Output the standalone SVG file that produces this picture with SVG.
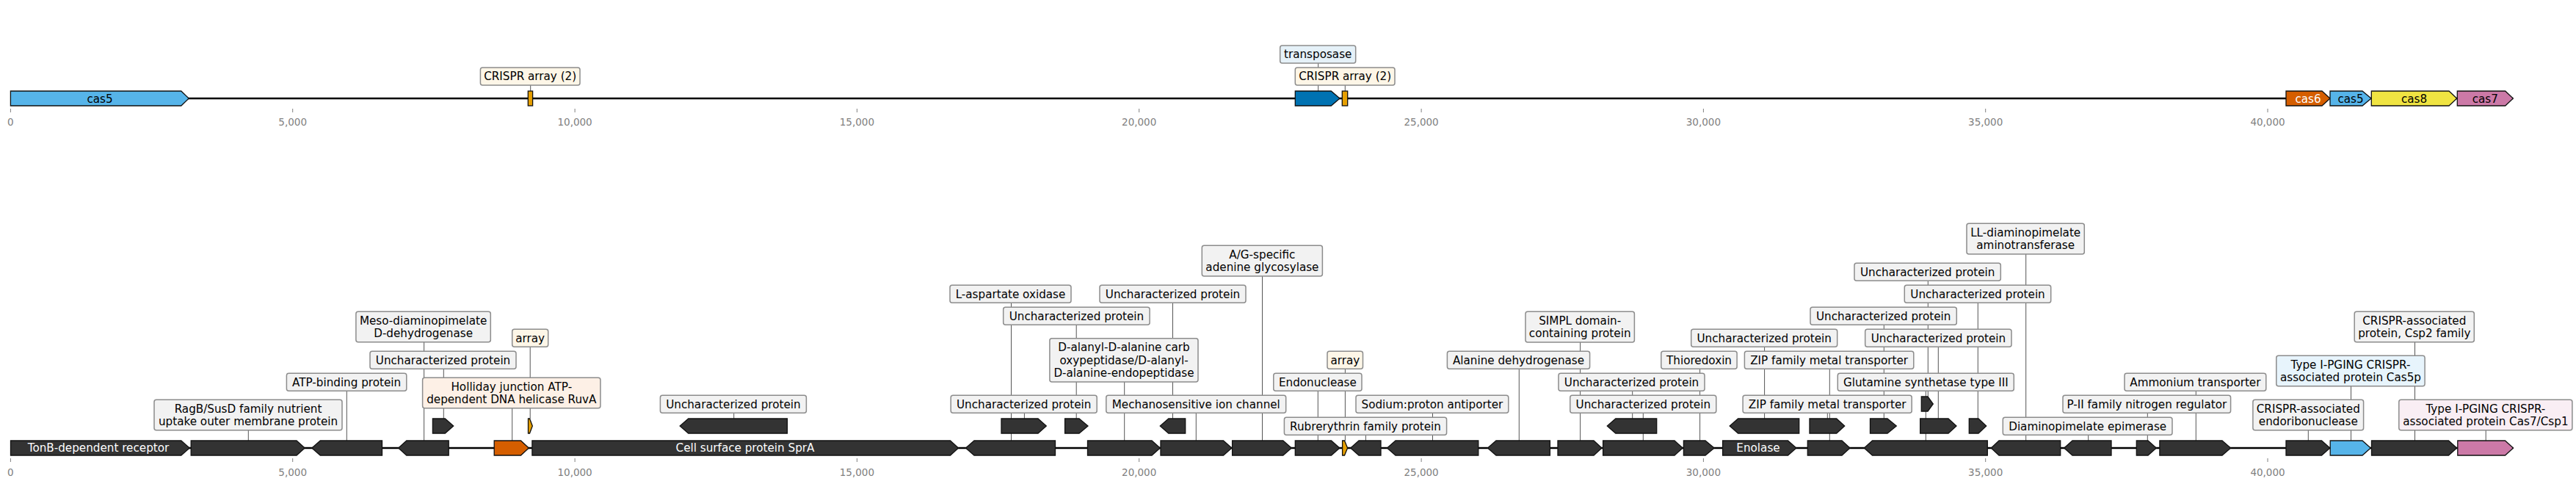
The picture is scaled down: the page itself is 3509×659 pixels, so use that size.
<svg xmlns="http://www.w3.org/2000/svg" width="3509" height="659" viewBox="0 0 3509 659">
<style>
text{font-family:"DejaVu Sans","Liberation Sans",sans-serif;font-size:15.2px;fill:#000;text-anchor:middle}
.bb{stroke:#000;stroke-width:2.5;fill:none}
.g{fill:#333;stroke:#111;stroke-width:1.3}
.lb{fill:#f2f2f2;stroke:#8c8c8c;stroke-width:1.5}
.cr{fill:#fdf6e7}
.ru{fill:#fdf0e6}
.tb{fill:#e5f1f8}
.c5{fill:#e7f4fc}
.c7{fill:#f9eef4}
.w{fill:#fff}
.tk{stroke:#808080;stroke-width:1}
.tl{fill:#808080;font-size:13.5px}
.cn{stroke:#555;stroke-width:1}
</style>
<rect width="3509" height="659" fill="#fff"/>
<g id="axes">
<line class="tk" x1="14.4" y1="148" x2="14.4" y2="153"/><line class="tk" x1="398.7" y1="148" x2="398.7" y2="153"/><line class="tk" x1="783.1" y1="148" x2="783.1" y2="153"/><line class="tk" x1="1167.4" y1="148" x2="1167.4" y2="153"/><line class="tk" x1="1551.7" y1="148" x2="1551.7" y2="153"/><line class="tk" x1="1936.1" y1="148" x2="1936.1" y2="153"/><line class="tk" x1="2320.4" y1="148" x2="2320.4" y2="153"/><line class="tk" x1="2704.7" y1="148" x2="2704.7" y2="153"/><line class="tk" x1="3089" y1="148" x2="3089" y2="153"/>
<text class="tl" x="14.4" y="171">0</text><text class="tl" x="398.7" y="171">5,000</text><text class="tl" x="783.1" y="171">10,000</text><text class="tl" x="1167.4" y="171">15,000</text><text class="tl" x="1551.7" y="171">20,000</text><text class="tl" x="1936.1" y="171">25,000</text><text class="tl" x="2320.4" y="171">30,000</text><text class="tl" x="2704.7" y="171">35,000</text><text class="tl" x="3089" y="171">40,000</text>
<line class="tk" x1="14.4" y1="624" x2="14.4" y2="629"/><line class="tk" x1="398.7" y1="624" x2="398.7" y2="629"/><line class="tk" x1="783.1" y1="624" x2="783.1" y2="629"/><line class="tk" x1="1167.4" y1="624" x2="1167.4" y2="629"/><line class="tk" x1="1551.7" y1="624" x2="1551.7" y2="629"/><line class="tk" x1="1936.1" y1="624" x2="1936.1" y2="629"/><line class="tk" x1="2320.4" y1="624" x2="2320.4" y2="629"/><line class="tk" x1="2704.7" y1="624" x2="2704.7" y2="629"/><line class="tk" x1="3089" y1="624" x2="3089" y2="629"/>
<text class="tl" x="14.4" y="647.5">0</text><text class="tl" x="398.7" y="647.5">5,000</text><text class="tl" x="783.1" y="647.5">10,000</text><text class="tl" x="1167.4" y="647.5">15,000</text><text class="tl" x="1551.7" y="647.5">20,000</text><text class="tl" x="1936.1" y="647.5">25,000</text><text class="tl" x="2320.4" y="647.5">30,000</text><text class="tl" x="2704.7" y="647.5">35,000</text><text class="tl" x="3089" y="647.5">40,000</text>
</g>
<g id="backbones">
<line class="bb" x1="14.4" y1="134" x2="3423.3" y2="134"/>
<line class="bb" x1="14.5" y1="610" x2="3423.5" y2="610"/>
</g>
<g id="connectors">
<line class="cn" x1="722.7" y1="116" x2="722.7" y2="124"/>
<line class="cn" x1="1795.7" y1="86" x2="1795.7" y2="124"/>
<line class="cn" x1="1832.3" y1="116" x2="1832.3" y2="124"/>
<line class="cn" x1="338.3" y1="586" x2="338.3" y2="600"/>
<line class="cn" x1="472.3" y1="532.3" x2="472.3" y2="600"/>
<line class="cn" x1="577.6" y1="465.7" x2="577.6" y2="600"/>
<line class="cn" x1="604.3" y1="502.3" x2="604.3" y2="570"/>
<line class="cn" x1="697.7" y1="555.7" x2="697.7" y2="600"/>
<line class="cn" x1="722.2" y1="472.3" x2="722.2" y2="570"/>
<line class="cn" x1="999.7" y1="562.3" x2="999.7" y2="570"/>
<line class="cn" x1="1377.5" y1="412.3" x2="1377.5" y2="600"/>
<line class="cn" x1="1395.4" y1="562.3" x2="1395.4" y2="570"/>
<line class="cn" x1="1466.2" y1="442.3" x2="1466.2" y2="570"/>
<line class="cn" x1="1531.7" y1="520" x2="1531.7" y2="600"/>
<line class="cn" x1="1597.5" y1="412.3" x2="1597.5" y2="570"/>
<line class="cn" x1="1629.3" y1="562.3" x2="1629.3" y2="600"/>
<line class="cn" x1="1719.5" y1="376" x2="1719.5" y2="600"/>
<line class="cn" x1="1795.3" y1="532.3" x2="1795.3" y2="600"/>
<line class="cn" x1="1832.4" y1="502.3" x2="1832.4" y2="600"/>
<line class="cn" x1="1860.4" y1="592.3" x2="1860.4" y2="600"/>
<line class="cn" x1="1951.5" y1="562.3" x2="1951.5" y2="600"/>
<line class="cn" x1="2069.3" y1="502.3" x2="2069.3" y2="600"/>
<line class="cn" x1="2152.6" y1="466" x2="2152.6" y2="600"/>
<line class="cn" x1="2223.7" y1="532.3" x2="2223.7" y2="570"/>
<line class="cn" x1="2238.3" y1="562.3" x2="2238.3" y2="600"/>
<line class="cn" x1="2315.6" y1="502.3" x2="2315.6" y2="600"/>
<line class="cn" x1="2403.6" y1="472.3" x2="2403.6" y2="570"/>
<line class="cn" x1="2492.3" y1="502.3" x2="2492.3" y2="600"/>
<line class="cn" x1="2489.3" y1="562.3" x2="2489.3" y2="570"/>
<line class="cn" x1="2566.3" y1="442.3" x2="2566.3" y2="570"/>
<line class="cn" x1="2623.3" y1="532.3" x2="2623.3" y2="600"/>
<line class="cn" x1="2626.3" y1="382.3" x2="2626.3" y2="540"/>
<line class="cn" x1="2640.3" y1="472.3" x2="2640.3" y2="570"/>
<line class="cn" x1="2694.3" y1="412.3" x2="2694.3" y2="570"/>
<line class="cn" x1="2759.7" y1="346" x2="2759.7" y2="600"/>
<line class="cn" x1="2844.7" y1="592.3" x2="2844.7" y2="600"/>
<line class="cn" x1="2925.3" y1="562.3" x2="2925.3" y2="600"/>
<line class="cn" x1="2991.3" y1="532.3" x2="2991.3" y2="600"/>
<line class="cn" x1="3144.3" y1="585.8" x2="3144.3" y2="600"/>
<line class="cn" x1="3202.5" y1="525.8" x2="3202.5" y2="600"/>
<line class="cn" x1="3289.5" y1="465.8" x2="3289.5" y2="600"/>
<line class="cn" x1="3386.2" y1="585.8" x2="3386.2" y2="600"/>
</g>
<g id="top-cas5"><path class="g" style="fill:#56b4e9" d="M14.4 124H246.8L257.2 134L246.8 144H14.4Z"/><text x="136" y="139.5">cas5</text></g>
<g id="top-crispr1"><rect x="719.3" y="124" width="6.3" height="20" style="fill:#e69f00;stroke:#111;stroke-width:1.3"/><rect class="lb cr" x="654.4" y="92" width="135.6" height="24" rx="3"/><text x="722.2" y="109.3">CRISPR array (2)</text></g>
<g id="top-transposase"><path class="g" style="fill:#0072b2" d="M1764.3 124H1813.3L1825 134L1813.3 144H1764.3Z"/><rect class="lb tb" x="1743.7" y="62" width="103" height="24" rx="3"/><text x="1795.2" y="79.3">transposase</text></g>
<g id="top-crispr2"><rect x="1828.3" y="124" width="7.4" height="20" style="fill:#e69f00;stroke:#111;stroke-width:1.3"/><rect class="lb cr" x="1764.3" y="92" width="135.7" height="24" rx="3"/><text x="1832.2" y="109.3">CRISPR array (2)</text></g>
<g id="top-cas6"><path class="g" style="fill:#d55e00" d="M3114 124H3163L3174 134L3163 144H3114Z"/><text class="w" x="3144" y="139.5">cas6</text></g>
<g id="top-cas5b"><path class="g" style="fill:#56b4e9" d="M3174 124H3218L3230 134L3218 144H3174Z"/><text x="3202" y="139.5">cas5</text></g>
<g id="top-cas8"><path class="g" style="fill:#f0e442" d="M3230.3 124H3336L3346.7 134L3336 144H3230.3Z"/><text x="3288.5" y="139.5">cas8</text></g>
<g id="top-cas7"><path class="g" style="fill:#cc79a7" d="M3347.3 124H3412.7L3423.3 134L3412.7 144H3347.3Z"/><text x="3385.3" y="139.5">cas7</text></g>

<g id="g-tonb"><path class="g" d="M14.5 600H246.8L258.3 610L246.8 620H14.5Z"/><text class="w" x="134" y="615.4">TonB-dependent receptor</text></g>
<g id="g-ragb"><path class="g" d="M260.2 600H404L415.2 610L404 620H260.2Z"/><rect class="lb" x="210" y="544.3" width="256" height="41.5" rx="3"/><text x="338" y="562.1">RagB/SusD family nutrient</text><text x="338" y="578.8">uptake outer membrane protein</text></g>
<g id="g-atp"><path class="g" d="M520.5 600H436.3L424.8 610L436.3 620H520.5Z"/><rect class="lb" x="390.4" y="508.3" width="163.4" height="24" rx="3"/><text x="472.1" y="525.6">ATP-binding protein</text></g>
<g id="g-meso"><path class="g" d="M611.2 600H553.8L542.7 610L553.8 620H611.2Z"/><rect class="lb" x="484.9" y="424.2" width="183.4" height="41.5" rx="3"/><text x="576.6" y="442">Meso-diaminopimelate</text><text x="576.6" y="458.7">D-dehydrogenase</text></g>
<g id="g-unc1"><path class="g" d="M589.4 570H606.3L617.7 580L606.3 590H589.4Z"/><rect class="lb" x="504" y="478.3" width="199" height="24" rx="3"/><text x="603.5" y="495.6">Uncharacterized protein</text></g>
<g id="g-ruva"><path class="g" style="fill:#d55e00" d="M673.2 600H709.5L720.3 610L709.5 620H673.2Z"/><rect class="lb ru" x="575.6" y="514.2" width="242.3" height="41.5" rx="3"/><text x="696.8" y="532">Holliday junction ATP-</text><text x="696.8" y="548.7">dependent DNA helicase RuvA</text></g>
<g id="g-array1"><path class="g" style="fill:#e69f00" d="M719.5 570H721.5L725.3 580L721.5 590H719.5Z"/><rect class="lb cr" x="697.7" y="448.3" width="49" height="24" rx="3"/><text x="722.2" y="465.6">array</text></g>
<g id="g-sprA"><path class="g" d="M724.9 600H1294.5L1305.5 610L1294.5 620H724.9Z"/><text class="w" x="1015" y="615.4">Cell surface protein SprA</text></g>
<g id="g-unc2"><path class="g" d="M1072.4 570H937.7L926.2 580L937.7 590H1072.4Z"/><rect class="lb" x="899.4" y="538.3" width="199" height="24" rx="3"/><text x="998.9" y="555.6">Uncharacterized protein</text></g>
<g id="g-lasp"><path class="g" d="M1437.5 600H1327L1315.5 610L1327 620H1437.5Z"/><rect class="lb" x="1294" y="388.3" width="165" height="24" rx="3"/><text x="1376.5" y="405.6">L-aspartate oxidase</text></g>
<g id="g-unc3"><path class="g" d="M1364 570H1414L1425.3 580L1414 590H1364Z"/><rect class="lb" x="1295.2" y="538.3" width="199" height="24" rx="3"/><text x="1394.7" y="555.6">Uncharacterized protein</text></g>
<g id="g-unc4"><path class="g" d="M1450.6 570H1470L1482 580L1470 590H1450.6Z"/><rect class="lb" x="1366.7" y="418.3" width="199.4" height="24" rx="3"/><text x="1466.4" y="435.6">Uncharacterized protein</text></g>
<g id="g-dala"><path class="g" d="M1481.5 600H1569L1580.3 610L1569 620H1481.5Z"/><rect class="lb" x="1429.9" y="460.7" width="202.1" height="59.3" rx="3"/><text x="1531" y="478.4">D-alanyl-D-alanine carb</text><text x="1531" y="495.7">oxypeptidase/D-alanyl-</text><text x="1531" y="513">D-alanine-endopeptidase</text></g>
<g id="g-unc5"><path class="g" d="M1614.7 570H1591.8L1580.3 580L1591.8 590H1614.7Z"/><rect class="lb" x="1498" y="388.3" width="199" height="24" rx="3"/><text x="1597.5" y="405.6">Uncharacterized protein</text></g>
<g id="g-mech"><path class="g" d="M1581 600H1666.5L1677.9 610L1666.5 620H1581Z"/><rect class="lb" x="1506.8" y="538.3" width="244.9" height="24" rx="3"/><text x="1629.3" y="555.6">Mechanosensitive ion channel</text></g>
<g id="g-ag"><path class="g" d="M1678.6 600H1747.8L1759.3 610L1747.8 620H1678.6Z"/><rect class="lb" x="1637.3" y="334.3" width="164.1" height="41.7" rx="3"/><text x="1719.4" y="352.1">A/G-specific</text><text x="1719.4" y="368.8">adenine glycosylase</text></g>
<g id="g-endo"><path class="g" d="M1764.3 600H1813.5L1824.8 610L1813.5 620H1764.3Z"/><rect class="lb" x="1734.8" y="508.3" width="120.2" height="24" rx="3"/><text x="1794.9" y="525.6">Endonuclease</text></g>
<g id="g-array2"><path class="g" style="fill:#e69f00" d="M1828.6 600H1831.5L1835.6 610L1831.5 620H1828.6Z"/><rect class="lb cr" x="1808" y="478.3" width="48.5" height="24" rx="3"/><text x="1832.3" y="495.6">array</text></g>
<g id="g-rubr"><path class="g" d="M1881 600H1851L1839.7 610L1851 620H1881Z"/><rect class="lb" x="1749.4" y="568.3" width="221.2" height="24" rx="3"/><text x="1860" y="585.6">Rubrerythrin family protein</text></g>
<g id="g-sod"><path class="g" d="M2013.8 600H1901L1889.5 610L1901 620H2013.8Z"/><rect class="lb" x="1847" y="538.3" width="207.8" height="24" rx="3"/><text x="1950.9" y="555.6">Sodium:proton antiporter</text></g>
<g id="g-ala"><path class="g" d="M2111.4 600H2038L2026.5 610L2038 620H2111.4Z"/><rect class="lb" x="1971.4" y="478.3" width="194.2" height="24" rx="3"/><text x="2068.5" y="495.6">Alanine dehydrogenase</text></g>
<g id="g-simpl"><path class="g" d="M2122 600H2171L2182 610L2171 620H2122Z"/><rect class="lb" x="2078" y="424.3" width="148.4" height="41.7" rx="3"/><text x="2152.2" y="442.1">SIMPL domain-</text><text x="2152.2" y="458.8">containing protein</text></g>
<g id="g-unc6"><path class="g" d="M2256.7 570H2200.8L2189.3 580L2200.8 590H2256.7Z"/><rect class="lb" x="2123" y="508.3" width="199" height="24" rx="3"/><text x="2222.5" y="525.6">Uncharacterized protein</text></g>
<g id="g-unc7"><path class="g" d="M2183.6 600H2281L2292.2 610L2281 620H2183.6Z"/><rect class="lb" x="2138.8" y="538.3" width="199" height="24" rx="3"/><text x="2238.3" y="555.6">Uncharacterized protein</text></g>
<g id="g-thio"><path class="g" d="M2293.4 600H2323L2335.1 610L2323 620H2293.4Z"/><rect class="lb" x="2262.8" y="478.3" width="103.3" height="24" rx="3"/><text x="2314.5" y="495.6">Thioredoxin</text></g>
<g id="g-unc8"><path class="g" d="M2450.7 570H2367.6L2356.2 580L2367.6 590H2450.7Z"/><rect class="lb" x="2303.7" y="448.3" width="199" height="24" rx="3"/><text x="2403.2" y="465.6">Uncharacterized protein</text></g>
<g id="g-enolase"><path class="g" d="M2346.6 600H2435.5L2446.9 610L2435.5 620H2346.6Z"/><text class="w" x="2395" y="615.4">Enolase</text></g>
<g id="g-zip1"><path class="g" d="M2462.3 600H2509L2520 610L2509 620H2462.3Z"/><rect class="lb" x="2376.4" y="478.3" width="230.4" height="24" rx="3"/><text x="2491.6" y="495.6">ZIP family metal transporter</text></g>
<g id="g-zip2"><path class="g" d="M2465 570H2501.7L2512.7 580L2501.7 590H2465Z"/><rect class="lb" x="2374.1" y="538.3" width="230.1" height="24" rx="3"/><text x="2489.2" y="555.6">ZIP family metal transporter</text></g>
<g id="g-unc9"><path class="g" d="M2547.5 570H2571L2583.3 580L2571 590H2547.5Z"/><rect class="lb" x="2466" y="418.3" width="199.3" height="24" rx="3"/><text x="2565.7" y="435.6">Uncharacterized protein</text></g>
<g id="g-glut"><path class="g" d="M2707.3 600H2550.5L2539.3 610L2550.5 620H2707.3Z"/><rect class="lb" x="2503.3" y="508.3" width="240" height="24" rx="3"/><text x="2623.3" y="525.6">Glutamine synthetase type III</text></g>
<g id="g-unc10"><path class="g" d="M2617.3 540H2626L2633.3 550L2626 560H2617.3Z"/><rect class="lb" x="2526" y="358.3" width="199.3" height="24" rx="3"/><text x="2625.7" y="375.6">Uncharacterized protein</text></g>
<g id="g-unc11"><path class="g" d="M2615.7 570H2654L2665 580L2654 590H2615.7Z"/><rect class="lb" x="2540.7" y="448.3" width="199.3" height="24" rx="3"/><text x="2640.4" y="465.6">Uncharacterized protein</text></g>
<g id="g-unc12"><path class="g" d="M2682.3 570H2695L2705.7 580L2695 590H2682.3Z"/><rect class="lb" x="2594.3" y="388.3" width="199.4" height="24" rx="3"/><text x="2694" y="405.6">Uncharacterized protein</text></g>
<g id="g-lldap"><path class="g" d="M2806.7 600H2723L2712.3 610L2723 620H2806.7Z"/><rect class="lb" x="2679" y="304.3" width="160.3" height="41.7" rx="3"/><text x="2759.2" y="322.1">LL-diaminopimelate</text><text x="2759.2" y="338.8">aminotransferase</text></g>
<g id="g-dapf"><path class="g" d="M2876 600H2823L2811.7 610L2823 620H2876Z"/><rect class="lb" x="2728.3" y="568.3" width="230.7" height="24" rx="3"/><text x="2843.7" y="585.6">Diaminopimelate epimerase</text></g>
<g id="g-pii"><path class="g" d="M2910.3 600H2926L2937.3 610L2926 620H2910.3Z"/><rect class="lb" x="2810" y="538.3" width="228.6" height="24" rx="3"/><text x="2924.3" y="555.6">P-II family nitrogen regulator</text></g>
<g id="g-amt"><path class="g" d="M2941.9 600H3027L3038.6 610L3027 620H2941.9Z"/><rect class="lb" x="2894" y="508.3" width="192.8" height="24" rx="3"/><text x="2990.4" y="525.6">Ammonium transporter</text></g>
<g id="g-cas6"><path class="g" d="M3114 600H3162.5L3173.8 610L3162.5 620H3114Z"/><rect class="lb" x="3068.9" y="544.3" width="150.7" height="41.5" rx="3"/><text x="3144.3" y="562">CRISPR-associated</text><text x="3144.3" y="578.7">endoribonuclease</text></g>
<g id="g-cas5"><path class="g" style="fill:#56b4e9" d="M3174.2 600H3218L3229.3 610L3218 620H3174.2Z"/><rect class="lb c5" x="3100.8" y="484.3" width="202.3" height="41.5" rx="3"/><text x="3202" y="502.1">Type I-PGING CRISPR-</text><text x="3202" y="518.8">associated protein Cas5p</text></g>
<g id="g-cas8"><path class="g" d="M3230.5 600H3335.5L3346.6 610L3335.5 620H3230.5Z"/><rect class="lb" x="3207.2" y="424.3" width="163.1" height="41.5" rx="3"/><text x="3288.8" y="442">CRISPR-associated</text><text x="3288.8" y="458.7">protein, Csp2 family</text></g>
<g id="g-cas7"><path class="g" style="fill:#cc79a7" d="M3347.8 600H3412.5L3423.5 610L3412.5 620H3347.8Z"/><rect class="lb c7" x="3267.8" y="544.3" width="236.1" height="41.5" rx="3"/><text x="3385.9" y="562">Type I-PGING CRISPR-</text><text x="3385.9" y="578.7">associated protein Cas7/Csp1</text></g>
</svg>
